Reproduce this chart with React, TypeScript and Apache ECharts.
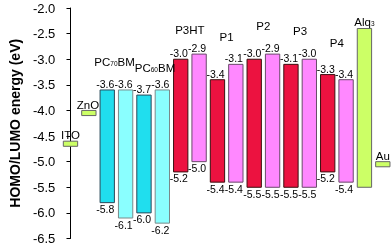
import React, { useEffect, useRef } from "react";
import * as echarts from "echarts";

const categories = ["ITO", "ZnO", "PC70BM-1", "PC70BM-2", "PC60BM-1", "PC60BM-2", "P3HT-1", "P3HT-2", "P1-1", "P1-2", "P2-1", "P2-2", "P3-1", "P3-2", "P4-1", "P4-2", "Alq3", "Au"];
const lumo = [-4.6, -4.0, -3.6, -3.6, -3.7, -3.6, -3.0, -2.9, -3.4, -3.1, -3.0, -2.9, -3.1, -3.0, -3.3, -3.4, -2.4, -5.0];
const homo = [-4.7, -4.1, -5.8, -6.1, -6.0, -6.2, -5.2, -5.0, -5.4, -5.4, -5.5, -5.5, -5.5, -5.5, -5.2, -5.4, -5.5, -5.1];
const showValues = [0, 0, 1, 1, 1, 1, 1, 1, 1, 1, 1, 1, 1, 1, 1, 1, 0, 0];
const kinds = ["green", "green", "cyanD", "cyanL", "cyanD", "cyanL", "red", "pink", "red", "pink", "red", "pink", "red", "pink", "red", "pink", "green", "green"];

const groupNames = ["ITO", "ZnO", "PC{s|70}BM", "PC{s|60}BM", "P3HT", "P1", "P2", "P3", "P4", "Alq{s|3}", "Au"];
const groupX = [0, 0.95, 2.4, 4.6, 6.5, 8.5, 10.5, 12.5, 14.5, 16, 17];
const groupY = [-4.47, -3.89, -3.05, -3.17, -2.43, -2.56, -2.35, -2.45, -2.68, -2.27, -4.88];

const yTicks = { min: -6.5, max: -2.0, interval: 0.5 };

const fills: Record<string, string> = {
  green: "#CCFF66",
  cyanD: "#20DEEE",
  cyanL: "#8AFFFF",
  red: "#EC1240",
  pink: "#FF88FF",
};
const strokes: Record<string, string> = {
  green: "#666666",
  cyanD: "#2a4a5a",
  cyanL: "#7a8a8a",
  red: "#3a1010",
  pink: "#6a4a6a",
};

const FONT = "'Liberation Sans', Arial, Helvetica, sans-serif";

export default function App() {
  const ref = useRef<HTMLDivElement>(null);
  useEffect(() => {
    if (!ref.current) return;
    const chart = echarts.init(ref.current, null, { renderer: "svg" });
    const barData = categories.map((c, i) => [i, lumo[i], homo[i], showValues[i], i]);
    const groupData = groupNames.map((n, i) => [groupX[i], groupY[i], i]);
    chart.setOption({
      animation: false,
      grid: { left: 52, right: 0, top: 8, bottom: 6 },
      xAxis: { type: "value", min: -0.5, max: 17.5, show: false },
      yAxis: {
        type: "value",
        min: yTicks.min,
        max: yTicks.max,
        interval: yTicks.interval,
        name: "HOMO/LUMO energy (eV)",
        nameLocation: "middle",
        nameGap: 32,
        nameTextStyle: { fontSize: 14, fontWeight: "bold", color: "#000", fontFamily: FONT },
        axisLine: { show: true, lineStyle: { color: "#000", width: 1 } },
        axisTick: { show: true, length: 4, inside: false, lineStyle: { color: "#000" } },
        axisLabel: { fontSize: 13, color: "#000", margin: 6, fontFamily: FONT, formatter: (v: number) => v.toFixed(1) },
        splitLine: { show: false },
      },
      series: [
        {
          type: "custom",
          data: barData,
          clip: false,
          renderItem: (params: any, api: any) => {
            const i = api.value(0);
            const idx = api.value(4);
            const lv = api.value(1);
            const hv = api.value(2);
            const top = api.coord([i, lv]);
            const bot = api.coord([i, hv]);
            const w = api.size([1, 0])[0] * 0.78;
            const kind = kinds[idx];
            const children: any[] = [
              {
                type: "rect",
                shape: { x: top[0] - w / 2, y: top[1], width: w, height: bot[1] - top[1] },
                style: { fill: fills[kind], stroke: strokes[kind], lineWidth: 1 },
              },
            ];
            if (api.value(3)) {
              children.push({
                type: "text",
                x: top[0] - 2,
                y: top[1] - 0.5,
                style: { text: lv.toFixed(1), fontSize: 10.5, fill: "#000", align: "center", verticalAlign: "bottom", fontFamily: FONT },
              });
              children.push({
                type: "text",
                x: bot[0] - 2,
                y: bot[1] + 1,
                style: { text: hv.toFixed(1), fontSize: 10.5, fill: "#000", align: "center", verticalAlign: "top", fontFamily: FONT },
              });
            }
            return { type: "group", children };
          },
        },
        {
          type: "custom",
          data: groupData,
          clip: false,
          renderItem: (params: any, api: any) => {
            const p = api.coord([api.value(0), api.value(1)]);
            const idx = api.value(2);
            return {
              type: "text",
              x: p[0],
              y: p[1],
              style: {
                text: groupNames[idx],
                fontSize: 11.5,
                fill: "#000",
                align: "center",
                verticalAlign: "middle",
                fontFamily: FONT,
                rich: { s: { fontSize: 6.5, fontFamily: FONT, padding: [4, 0, 0, 0] } },
              },
            };
          },
        },
      ],
    });
    return () => chart.dispose();
  }, []);
  return <div ref={ref} style={{ position: "fixed", left: 0, top: 0, width: 392, height: 245 }} />;
}
